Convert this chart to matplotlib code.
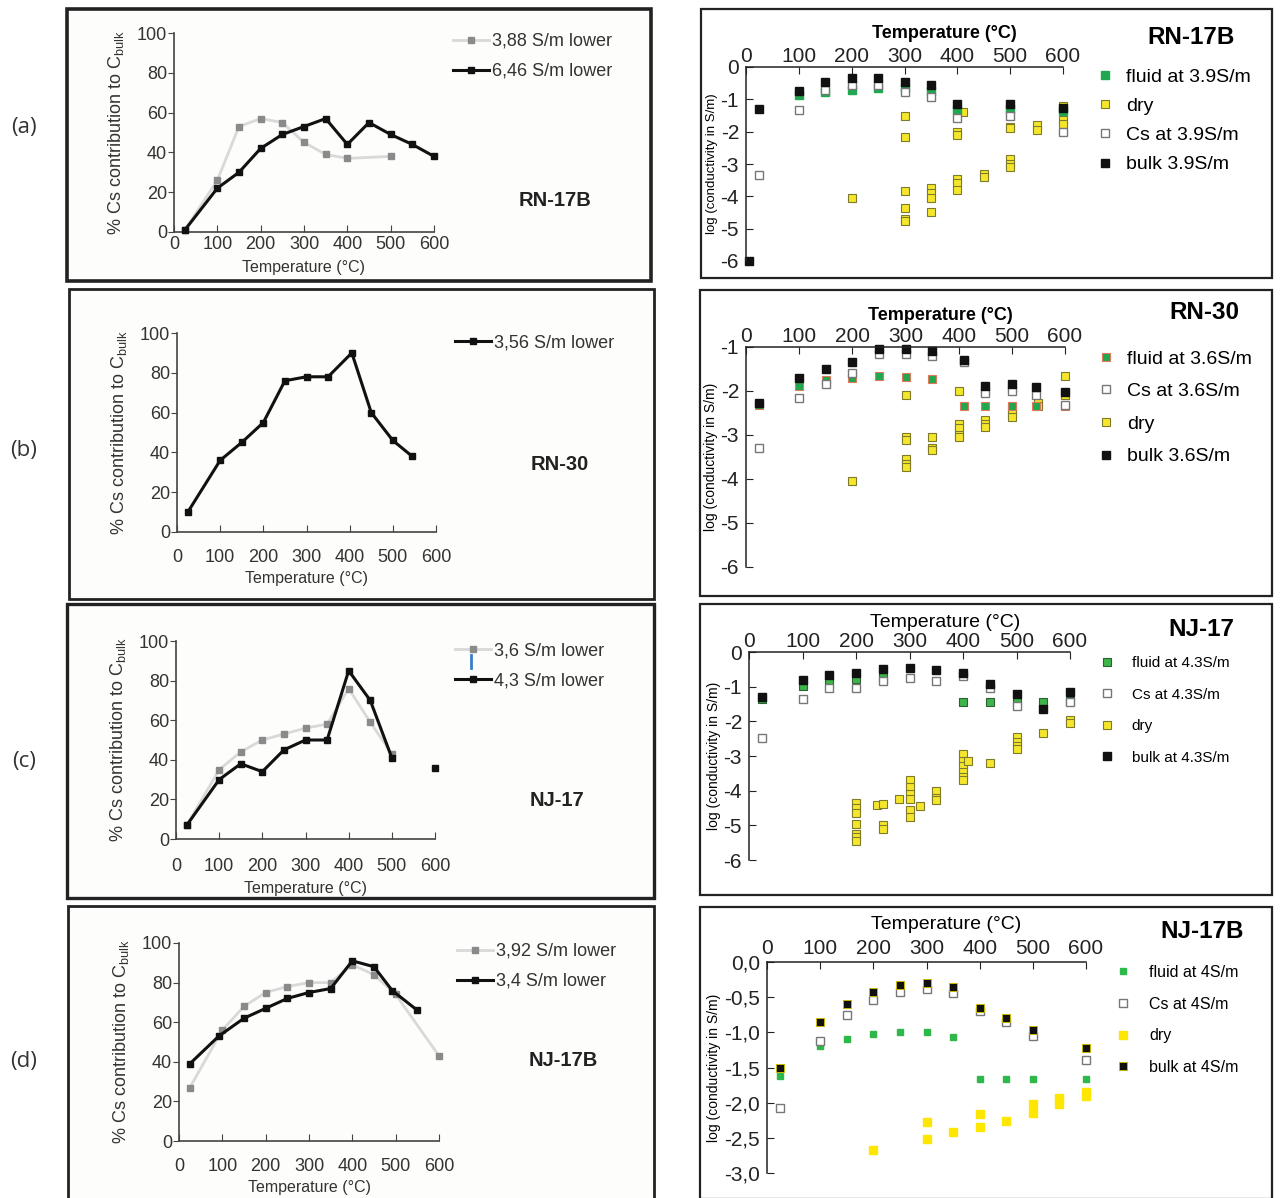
import matplotlib as mpl
mpl.use('agg')
import matplotlib.pyplot as plt
from matplotlib.patches import Rectangle
from matplotlib.lines import Line2D
from matplotlib.ticker import FuncFormatter
import numpy as np

plt.rcParams['font.family'] = ['Liberation Sans', 'DejaVu Sans']
plt.rcParams['axes.unicode_minus'] = False
plt.rcParams['mathtext.fontset'] = 'custom'
plt.rcParams['mathtext.rm'] = 'Liberation Sans'

# ---------- left column: % Cs contribution to C_bulk ----------
tempA_low = [25, 100, 150, 200, 250, 300, 350, 400, 500]
pctA_low = [1, 26, 53, 57, 55, 45, 39, 37, 38]
tempA_high = [25, 100, 150, 200, 250, 300, 350, 400, 450, 500, 550, 600]
pctA_high = [1, 22, 30, 42, 49, 53, 57, 44, 55, 49, 44, 38]

tempB = [25, 100, 150, 200, 250, 300, 350, 405, 450, 500, 545]
pctB = [10, 36, 45, 55, 76, 78, 78, 90, 60, 46, 38]

tempC_low = [25, 100, 150, 200, 250, 300, 350, 400, 450, 500]
pctC_low = [7, 35, 44, 50, 53, 56, 58, 76, 59, 43]
tempC_high = [25, 100, 150, 200, 250, 300, 350, 400, 450, 500, 550, 600]
pctC_high = [7, 30, 38, 34, 45, 50, 50, 85, 70, 41, np.nan, 36]

tempD_low = [25, 100, 150, 200, 250, 300, 350, 400, 450, 500, 600]
pctD_low = [27, 56, 68, 75, 78, 80, 80, 89, 84, 74, 43]
tempD_high = [25, 92, 150, 200, 250, 300, 350, 400, 450, 492, 550]
pctD_high = [39, 53, 62, 67, 72, 75, 77, 91, 88, 76, 66]

# ---------- right column: log conductivity ----------
bulkA_t = [5, 25, 100, 150, 200, 250, 300, 350, 400, 500, 600]
bulkA = [-6.0, -1.3, -0.75, -0.45, -0.35, -0.33, -0.45, -0.55, -1.15, -1.13, -1.27]
fluidA_t = [100, 150, 200, 250, 300, 350, 400, 500, 600]
fluidA = [-0.88, -0.78, -0.7, -0.65, -0.65, -0.75, -1.32, -1.3, -1.35]
csA_t = [25, 100, 150, 200, 250, 300, 350, 400, 500, 600]
csA = [-3.35, -1.33, -0.72, -0.57, -0.57, -0.77, -0.93, -1.57, -1.53, -2.0]
dryA_t = [200, 300, 300, 300, 300, 300, 300, 350, 350, 350, 350, 400, 400, 400, 400, 400,
          410, 450, 450, 500, 500, 500, 500, 500, 500, 550, 550, 600, 600, 600]
dryA = [-4.05, -1.5, -2.15, -3.85, -4.35, -4.7, -4.75, -3.75, -3.9, -4.05, -4.5, -3.45, -3.6, -3.8, -2.0, -2.1,
        -1.38, -3.3, -3.4, -2.85, -3.0, -3.1, -1.85, -1.9, -1.3, -1.8, -1.95, -1.65, -1.75, -1.2]

bulkB_t = [25, 100, 150, 200, 250, 300, 350, 410, 450, 500, 545, 600]
bulkB = [-2.28, -1.7, -1.5, -1.33, -1.05, -1.05, -1.1, -1.3, -1.88, -1.85, -1.9, -2.03]
fluidB_t = [25, 100, 150, 200, 250, 300, 350, 410, 450, 500, 545, 600]
fluidB = [-2.32, -1.88, -1.75, -1.7, -1.65, -1.68, -1.73, -2.35, -2.35, -2.35, -2.35, -2.33]
csB_t = [25, 100, 150, 200, 250, 300, 350, 410, 450, 500, 545, 600]
csB = [-3.3, -2.15, -1.85, -1.6, -1.15, -1.15, -1.2, -1.35, -2.05, -2.0, -2.08, -2.32]
dryB_t = [200, 300, 300, 300, 300, 300, 300, 350, 350, 350, 400, 400, 400, 400, 400,
          450, 450, 450, 450, 500, 500, 500, 500, 550, 550, 600, 600]
dryB = [-4.05, -2.1, -3.05, -3.12, -3.55, -3.65, -3.72, -3.05, -3.3, -3.35, -2.0, -2.75, -2.85, -3.0, -3.05,
        -1.98, -2.65, -2.75, -2.82, -1.93, -2.42, -2.5, -2.6, -2.28, -2.35, -1.67, -2.1]

bulkC_t = [25, 100, 150, 200, 250, 300, 350, 400, 450, 500, 550, 600]
bulkC = [-1.3, -0.8, -0.65, -0.6, -0.5, -0.47, -0.53, -0.62, -0.93, -1.2, -1.65, -1.15]
fluidC_t = [25, 100, 150, 200, 250, 400, 450, 500, 550, 600]
fluidC = [-1.35, -0.97, -0.85, -0.77, -0.72, -1.43, -1.43, -1.43, -1.43, -1.4]
csC_t = [25, 100, 150, 200, 250, 300, 350, 400, 450, 500, 600]
csC = [-2.47, -1.35, -1.05, -1.05, -0.83, -0.75, -0.83, -0.7, -1.05, -1.55, -1.45]
dryC_t = [200, 200, 200, 200, 200, 200, 200, 240, 250, 250, 250, 280, 300, 300, 300, 300, 300, 300, 320,
          350, 350, 350, 400, 400, 400, 400, 400, 400, 410, 450, 500, 500, 500, 500, 550, 600, 600]
dryC = [-4.35, -4.5, -4.65, -4.95, -5.25, -5.35, -5.45, -4.4, -4.38, -5.0, -5.1, -4.25, -3.7, -3.9, -4.1, -4.25,
        -4.55, -4.75, -4.45, -4.0, -4.2, -4.28, -2.95, -3.15, -3.3, -3.45, -3.6, -3.7, -3.15, -3.2,
        -2.45, -2.6, -2.7, -2.8, -2.35, -1.97, -2.05]

bulkD_t = [25, 100, 150, 200, 250, 300, 350, 400, 450, 500, 600]
bulkD = [-1.5, -0.86, -0.6, -0.42, -0.33, -0.3, -0.35, -0.65, -0.8, -0.97, -1.22]
fluidD_t = [25, 100, 150, 200, 250, 300, 350, 400, 450, 500, 600]
fluidD = [-1.62, -1.2, -1.09, -1.02, -0.99, -1.0, -1.07, -1.67, -1.67, -1.67, -1.67]
csD_t = [25, 100, 150, 200, 250, 300, 350, 400, 450, 500, 600]
csD = [-2.07, -1.12, -0.75, -0.54, -0.43, -0.39, -0.44, -0.7, -0.85, -1.05, -1.4]
dryD_t = [200, 300, 300, 350, 400, 400, 450, 500, 500, 550, 550, 600, 600]
dryD = [-2.67, -2.27, -2.52, -2.42, -2.16, -2.35, -2.26, -2.02, -2.15, -1.93, -2.02, -1.85, -1.9]

W, H = 1284, 1198
fig = plt.figure(figsize=(W / 100, H / 100), dpi=100)


def axesAt(x0, x1, yTop, yBottom):
    return fig.add_axes([x0 / W, 1 - yBottom / H, (x1 - x0) / W, (yBottom - yTop) / H])


def box(x0, y0, x1, y1, lw=2.0, color='#222222', face='none'):
    fig.add_artist(Rectangle((x0 / W, 1 - y1 / H), (x1 - x0) / W, (y1 - y0) / H,
                             transform=fig.transFigure, fill=(face != 'none'),
                             facecolor=face, edgecolor=color, lw=lw, zorder=0))


def ftext(x, y, s, **kw):
    fig.text(x / W, 1 - y / H, s, **kw)


greyLine = dict(color='#d9d9d9', lw=2.0, marker='s', ms=5, mfc='#8a8a8a', mec='#8a8a8a', clip_on=False)
blackLine = dict(color='#111111', lw=2.2, marker='s', ms=5, mfc='#111111', mec='#111111', clip_on=False)
txtCol = '#333333'


def leftPanel(ax, sample, sx, sy, legX, legY, xlabPad=2, tickPad=3):
    ax.set_xlim(0, 600)
    ax.set_ylim(0, 100)
    ax.set_xticks(range(0, 700, 100))
    ax.set_yticks(range(0, 120, 20))
    for s in ['top', 'right']:
        ax.spines[s].set_visible(False)
    for s in ['left', 'bottom']:
        ax.spines[s].set_color('#444444')
        ax.spines[s].set_linewidth(1.2)
    ax.tick_params(axis='x', direction='in', length=5, labelsize=13, colors='#444444',
                   labelcolor=txtCol, pad=tickPad)
    ax.tick_params(axis='y', direction='out', length=4, labelsize=13, colors='#444444',
                   labelcolor=txtCol, pad=1)
    ax.set_xlabel('Temperature (°C)', fontsize=11.5, color=txtCol, labelpad=xlabPad)
    ax.set_ylabel(r'% Cs contribution to C$_{\mathregular{bulk}}$', fontsize=13, color=txtCol, labelpad=8)
    ax.patch.set_alpha(0)
    ax.legend(loc='upper left', bbox_to_anchor=(legX / W, 1 - legY / H), bbox_transform=fig.transFigure,
              frameon=False, fontsize=13, borderpad=0, borderaxespad=0, handlelength=2.0,
              handletextpad=0.15, labelspacing=0.72, labelcolor=txtCol)
    ftext(sx, sy, sample, fontsize=14.5, fontweight='bold', color='#222222', ha='center', va='center')


# boxes
box(67, 9, 651, 281, lw=2.6, face='#fdfdfb')
box(69, 289, 654, 599, lw=2.0, face='#fdfdfb')
box(67, 604, 654, 898, lw=2.4, face='#fdfdfb')
box(68, 906, 654, 1199, lw=2.0, face='#fdfdfb')
box(701, 9, 1272, 278, lw=1.6)
box(700, 290, 1272, 596, lw=1.6)
box(700, 604, 1272, 895, lw=1.6)
box(700, 907, 1272, 1199, lw=1.6)

# (a) left
ax = axesAt(174, 434, 33, 232)
ax.plot(tempA_low, pctA_low, label='3,88 S/m lower', zorder=2, **greyLine)
ax.plot(tempA_high, pctA_high, label='6,46 S/m lower', zorder=3, **blackLine)
leftPanel(ax, 'RN-17B', 555, 200, 453, 33, xlabPad=5)

# (b) left
ax = axesAt(177, 436, 333, 532)
ax.plot(tempB, pctB, label='3,56 S/m lower', zorder=3, **blackLine)
leftPanel(ax, 'RN-30', 560, 465, 455, 334, xlabPad=4, tickPad=12)

# (c) left
ax = axesAt(176, 435, 641, 839)
ax.plot(tempC_low, pctC_low, label='3,6 S/m lower', zorder=2, **greyLine)
ax.plot(tempC_high, pctC_high, label='4,3 S/m lower', zorder=3, **blackLine)
leftPanel(ax, 'NJ-17', 557, 800, 455, 642, xlabPad=4, tickPad=14)
fig.add_artist(Line2D([471 / W, 471 / W], [1 - 655 / H, 1 - 668 / H], transform=fig.transFigure,
                      color='#3a7cc8', lw=2))

# (d) left
ax = axesAt(179, 439, 943, 1141)
ax.plot(tempD_low, pctD_low, label='3,92 S/m lower', zorder=2, **greyLine)
ax.plot(tempD_high, pctD_high, label='3,4 S/m lower', zorder=3, **blackLine)
leftPanel(ax, 'NJ-17B', 563, 1061, 457, 943, xlabPad=4, tickPad=12)

# ---------- right panels ----------
green = '#1fa84f'
yellow = '#f5e62c'


def rightPanel(ax, ylim, yticks, series, order, legX, legY, legFont, legSpace, hpad,
               title, tx, ty, tickFont, tlabBold, tlabFont, tlabPad, tlabX, ylabFont,
               yfmt=None, xpad=1):
    for name, (t, v, st) in series.items():
        ax.plot(t, v, ls='none', marker='s', clip_on=False, label=name, **st)
    ax.set_xlim(0, 600)
    ax.set_ylim(*ylim)
    ax.set_xticks(range(0, 700, 100))
    ax.set_yticks(yticks)
    if yfmt is not None:
        ax.yaxis.set_major_formatter(FuncFormatter(yfmt))
    ax.xaxis.tick_top()
    ax.xaxis.set_label_position('top')
    for s in ['bottom', 'right']:
        ax.spines[s].set_visible(False)
    for s in ['top', 'left']:
        ax.spines[s].set_color('#222222')
        ax.spines[s].set_linewidth(1.1)
    ax.tick_params(direction='in', length=5, labelsize=tickFont, colors='#222222')
    ax.tick_params(axis='x', pad=xpad)
    ax.tick_params(axis='y', pad=5)
    ax.set_xlabel('Temperature (°C)', fontsize=tlabFont, fontweight='bold' if tlabBold else 'normal',
                  labelpad=tlabPad)
    ax.xaxis.label.set_x(tlabX)
    ax.set_ylabel('log (conductivity in S/m)', fontsize=ylabFont, labelpad=2)
    ax.patch.set_alpha(0)
    hs = []
    for name in order:
        st = dict(series[name][2])
        st['ms'] = min(st.get('ms', 6), 5.2)
        hs.append(Line2D([], [], ls='none', marker='s', **st))
    ax.legend(hs, order, loc='upper left', bbox_to_anchor=(legX / W, 1 - legY / H),
              bbox_transform=fig.transFigure, frameon=False, fontsize=legFont, borderpad=0,
              borderaxespad=0, handlelength=0.8, handletextpad=hpad, labelspacing=legSpace)
    ftext(tx, ty, title, fontsize=17.5, fontweight='bold', ha='center', va='center')


ms = 5.8
dryStyle = dict(ms=ms, mfc=yellow, mec='#7d7a2a', mew=0.8)
csStyle = dict(ms=ms, mfc='white', mec='#777777', mew=1.0)
bulkStyle = dict(ms=ms, mfc='#111111', mec='#111111')

# (a) right
ax = axesAt(746, 1063, 67, 261)
rightPanel(ax, (-6, 0), range(0, -7, -1),
           {'dry': (dryA_t, dryA, dryStyle),
            'fluid at 3.9S/m': (fluidA_t, fluidA, dict(ms=ms, mfc=green, mec=green)),
            'Cs at 3.9S/m': (csA_t, csA, csStyle),
            'bulk 3.9S/m': (bulkA_t, bulkA, bulkStyle)},
           ['fluid at 3.9S/m', 'dry', 'Cs at 3.9S/m', 'bulk 3.9S/m'],
           1097, 68, 14, 0.6, 0.7, 'RN-17B', 1191, 37, 15, True, 13, 6, 0.625, 9.5)

# (b) right
ax = axesAt(746, 1065, 347, 567)
rightPanel(ax, (-6, -1), range(-1, -7, -1),
           {'dry': (dryB_t, dryB, dryStyle),
            'fluid at 3.6S/m': (fluidB_t, fluidB, dict(ms=ms, mfc=green, mec='#e0785a', mew=0.8)),
            'Cs at 3.6S/m': (csB_t, csB, csStyle),
            'bulk 3.6S/m': (bulkB_t, bulkB, bulkStyle)},
           ['fluid at 3.6S/m', 'Cs at 3.6S/m', 'dry', 'bulk 3.6S/m'],
           1098, 350, 14, 0.77, 0.7, 'RN-30', 1204, 312, 15, True, 13, 5, 0.61, 10)

# (c) right
ax = axesAt(749, 1070, 652, 860)
rightPanel(ax, (-6, 0), range(0, -7, -1),
           {'dry': (dryC_t, dryC, dryStyle),
            'fluid at 4.3S/m': (fluidC_t, fluidC, dict(ms=ms, mfc='#3db54a', mec='#2e5f36', mew=0.8)),
            'Cs at 4.3S/m': (csC_t, csC, csStyle),
            'bulk at 4.3S/m': (bulkC_t, bulkC, bulkStyle)},
           ['fluid at 4.3S/m', 'Cs at 4.3S/m', 'dry', 'bulk at 4.3S/m'],
           1101, 656, 11, 1.15, 1.2, 'NJ-17', 1201, 630, 15, False, 14, 3, 0.61, 10)

# (d) right
ax = axesAt(767, 1086, 962, 1173)
rightPanel(ax, (-3, 0), np.arange(0, -3.5, -0.5),
           {'dry': (dryD_t, dryD, dict(ms=ms, mfc='#ffe600', mec='#ffe600')),
            'fluid at 4S/m': (fluidD_t, fluidD, dict(ms=4.3, mfc='#2fb84a', mec='#2fb84a')),
            'Cs at 4S/m': (csD_t, csD, csStyle),
            'bulk at 4S/m': (bulkD_t, bulkD, dict(ms=ms, mfc='#111111', mec='#c9b800', mew=0.7))},
           ['fluid at 4S/m', 'Cs at 4S/m', 'dry', 'bulk at 4S/m'],
           1117, 965, 11.5, 1.04, 1.2, 'NJ-17B', 1202, 932, 15, False, 14, 7, 0.56, 10,
           yfmt=lambda v, p: f'{v:.1f}'.replace('.', ','), xpad=3)

# panel letters
for letter, yy in [('(a)', 128), ('(b)', 450), ('(c)', 762), ('(d)', 1062)]:
    fig.text(24 / W, 1 - yy / H, letter, fontsize=16, family=['Open Sans', 'DejaVu Sans'],
             color='#333333', ha='center', va='center')

fig.savefig('out.png', dpi=100)
